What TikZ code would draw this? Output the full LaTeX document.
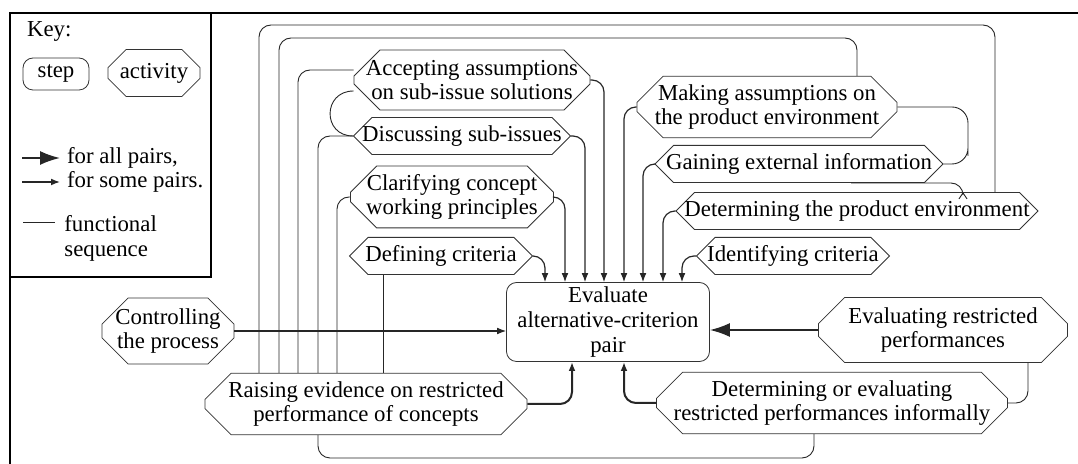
\documentclass[tikz,border=0pt]{standalone}
\usepackage{fontspec}
\setmainfont{Liberation Serif}
\usetikzlibrary{shapes.misc,arrows.meta,positioning}

\tikzset{
  act/.style={chamfered rectangle, chamfered rectangle xsep=10pt, draw=black!80,
    line width=0.4pt, align=center, inner xsep=-4pt, inner ysep=1pt},
  act1/.style={act, chamfered rectangle xsep=7pt},
  stepbox/.style={rectangle, rounded corners=5pt, draw=black!80, line width=0.4pt,
    align=center, inner sep=1pt},
  seq/.style={draw=black!85, line width=0.45pt, rounded corners=6pt},
  some/.style={seq, line width=0.6pt, -{Latex[length=4.5pt,width=3.4pt]}},
  all/.style={seq, line width=0.9pt, -{Latex[length=10pt,width=7pt]}},
  frame/.style={draw=black, line width=0.8pt},
}

\begin{document}
\begin{tikzpicture}[x=0.5pt, y=-0.5pt, font=\fontsize{11.4}{12.3}\selectfont]
  \useasboundingbox (0,0) rectangle (1078,464);
  % Rahmen und Legende
  \draw[frame, line width=1pt] (1078,13) -- (10,13) -- (10,464);
  \draw[frame] (211,13) -- (211,277) -- (10,277);
  \node[anchor=west] (key) at (20,32) {Key:};
  \node[stepbox, minimum width=33pt, minimum height=16pt] (kstep) at (56,74) {step};
  \node[act, chamfered rectangle xsep=7.5pt, minimum width=46pt, minimum height=23.5pt] (kact) at (154,73) {activity};
  \node[anchor=west] (kall) at (60,158) {for all pairs,};
  \node[anchor=west] (ksome) at (60,182) {for some pairs.};
  \node[anchor=north west, align=left, inner sep=2pt] (kseq) at (60,211) {functional\\sequence};
  \coordinate (kall0) at (22,158);
  \coordinate (ksome0) at (22,182);
  \coordinate (kseq0) at (23,222);
  \coordinate (kseq1) at (55,222);
  \draw[all] (kall0) -- (kall.west);
  \draw[some] (ksome0) -- (ksome.west);
  \draw[seq] (kseq0) -- (kseq1);

  % Aktivitaeten
  \node[act, minimum width=117.5pt, minimum height=30pt] (acc) at (472,80) {Accepting assumptions\\on sub-issue solutions};
  \node[act1, minimum width=108.5pt, minimum height=15pt] (disc) at (462,136) {Discussing sub-issues};
  \node[act, minimum width=101.5pt, minimum height=30pt] (clar) at (452,197) {Clarifying concept\\working principles};
  \node[act1, minimum width=91.5pt, minimum height=17pt] (def) at (441,256) {Defining criteria};
  \node[act, minimum width=130pt, minimum height=30pt] (making) at (767,107) {Making assumptions on\\the product environment};
  \node[act1, minimum width=144pt, minimum height=16pt] (gain) at (799,164) {Gaining external information};
  \node[act1, minimum width=181pt, minimum height=17pt] (detenv) at (857,211) {Determining the product environment};
  \node[act1, minimum width=96.5pt, minimum height=17pt] (ident) at (793,256) {Identifying criteria};
  \node[act, minimum width=66pt, minimum height=33pt] (ctrl) at (168,331) {Controlling\\the process};
  \node[act, minimum width=124.5pt, minimum height=32.5pt] (evres) at (943,330) {Evaluating restricted\\performances};
  \node[act, minimum width=161pt, minimum height=29.5pt] (raise) at (366,404) {Raising evidence on restricted\\performance of concepts};
  \node[act, minimum width=175.5pt, minimum height=30pt] (deteval) at (832,403) {Determining or evaluating\\restricted performances informally};
  % Schritt
  \node[stepbox, minimum width=101.5pt, minimum height=39.5pt] (eval) at (608,322) {Evaluate\\alternative-criterion\\pair};

  % funktionale Folgen
  \draw[seq] (raise.north -| 259,0) -- (259,25) -- (995,25) -- (detenv.north -| 995,0);
  \draw[seq] (raise.north -| 279,0) -- (279,38) -- (857,38) -- (making.north -| 857,0);
  \draw[seq] (raise.north -| 298,0) |- (acc.west |- 0,70);
  \draw[seq] (acc.west |- 0,91) .. controls +(-31,0) and +(-31,0) .. (disc.west);
  \draw[seq] (raise.north -| 318,0) |- (disc.west);
  \draw[seq] (raise.north -| 337,0) |- (clar.west);
  \draw[seq] (raise.north -| 383,0) -- (def.south -| 383,0);
  \draw[seq] (raise.south -| 318,0) -- (318,458) -- (814,458) -- (deteval.south -| 814,0);
  \draw[seq, rounded corners=8pt] (making.east) -| (968,140) |- (gain.east);
  \draw[seq, -{Straight Barb[length=3pt,width=4pt]}] (gain.-20) -| (detenv.north -| 963,0);
  \draw[seq] (evres.south -| 1028,0) |- (deteval.east);

  % Pfeile zum Schritt
  \draw[some] (def.east) -| (eval.north -| 545,0);
  \draw[some] (clar.east) -| (eval.north -| 565,0);
  \draw[some] (disc.east) -| (eval.north -| 585,0);
  \draw[some] (acc.east) -| (eval.north -| 604,0);
  \draw[some] (making.west) -| (eval.north -| 624,0);
  \draw[some] (gain.west) -| (eval.north -| 643,0);
  \draw[some] (detenv.west) -| (eval.north -| 663,0);
  \draw[some] (ident.west) -| (eval.north -| 682,0);
  \draw[some] (ctrl.east) -- (ctrl.east -| eval.west);
  \draw[all] (evres.west) -- (evres.west -| eval.east);
  \draw[some, line width=1pt] (raise.east) -| (eval.south -| 572,0);
  \draw[some, line width=1pt] (deteval.west) -| (eval.south -| 624,0);
\end{tikzpicture}
\end{document}
